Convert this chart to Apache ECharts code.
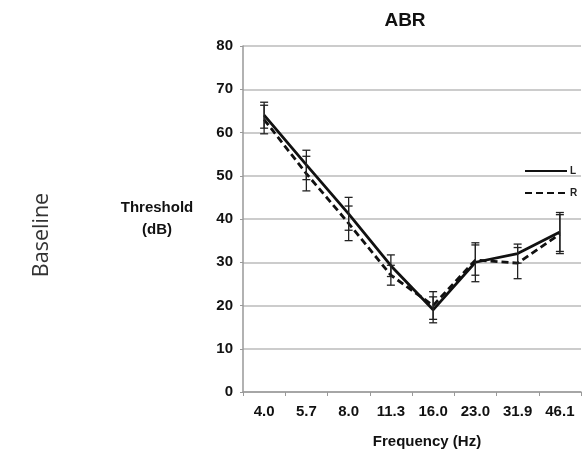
<!DOCTYPE html>
<html>
<head>
<meta charset="utf-8">
<script src="https://cdn.jsdelivr.net/npm/echarts@6/dist/echarts.min.js"></script>
<style>html,body{margin:0;padding:0;background:#fff;}#c{width:587px;height:460px;}</style>
</head>
<body>
<div id="c"></div>
<script>
const categories = ['4.0', '5.7', '8.0', '11.3', '16.0', '23.0', '31.9', '46.1'];
const leftValues = [64, 52.5, 41.2, 29.2, 19, 30, 32, 37];
const leftErr = [3, 3.4, 3.8, 2.5, 3, 4.5, 2.2, 4.5];
const rightValues = [63, 50.5, 39, 27, 20, 30.5, 29.8, 36.5];
const rightErr = [3.3, 4, 4, 2.3, 3.2, 3.5, 3.6, 4.5];
const yTicks = [0, 10, 20, 30, 40, 50, 60, 70, 80];

const FONT = 'Liberation Sans, Arial, sans-serif';

function errData(vals, errs) {
  return vals.map((v, i) => [i, v - errs[i], v + errs[i]]);
}
function errRender(params, api) {
  const i = api.value(0);
  const lo = api.coord([i, api.value(1)]);
  const hi = api.coord([i, api.value(2)]);
  const w = 4;
  const style = { stroke: '#222', lineWidth: 1.3 };
  return {
    type: 'group',
    children: [
      { type: 'line', shape: { x1: hi[0], y1: hi[1], x2: lo[0], y2: lo[1] }, style },
      { type: 'line', shape: { x1: hi[0] - w, y1: hi[1], x2: hi[0] + w, y2: hi[1] }, style },
      { type: 'line', shape: { x1: lo[0] - w, y1: lo[1], x2: lo[0] + w, y2: lo[1] }, style }
    ]
  };
}

const chart = echarts.init(document.getElementById('c'), null, { renderer: 'canvas' });
chart.setOption({
  animation: false,
  backgroundColor: '#fff',
  title: {
    text: 'ABR', left: 400, top: 6, textAlign: 'center',
    textStyle: { fontFamily: FONT, fontWeight: 'bold', fontSize: 19, color: '#111' }
  },
  grid: { left: 243, right: 6, top: 46, bottom: 68 },
  legend: {
    orient: 'vertical', left: 519, top: 161, itemWidth: 42, itemHeight: 8, itemGap: 12,
    itemStyle: { opacity: 0 },
    textStyle: { fontFamily: FONT, fontWeight: 'bold', fontSize: 10, color: '#222', padding: [0, 0, 0, -2] },
    data: ['L', 'R']
  },
  graphic: [{
    type: 'text', x: 42, y: 235, rotation: Math.PI / 2,
    style: { text: 'Baseline', fontFamily: 'Open Sans, Liberation Sans, sans-serif', fontSize: 21.5, fill: '#333',
      textAlign: 'center', textVerticalAlign: 'middle' }
  }],
  xAxis: {
    type: 'category', data: categories, boundaryGap: true,
    name: 'Frequency (Hz)', nameLocation: 'middle', nameGap: 42,
    nameTextStyle: { fontFamily: FONT, fontWeight: 'bold', fontSize: 15, color: '#111', padding: [0, 0, 0, 30] },
    axisLine: { lineStyle: { color: '#999', width: 1.5 } },
    axisTick: { show: true, length: 4, lineStyle: { color: '#999' } },
    axisLabel: { fontFamily: FONT, fontWeight: 'bold', fontSize: 15, color: '#111', margin: 12 }
  },
  yAxis: {
    type: 'value', min: 0, max: 80, interval: 10,
    name: 'Threshold\n(dB)', nameLocation: 'middle', nameRotate: 0, nameGap: 86,
    nameTextStyle: { fontFamily: FONT, fontWeight: 'bold', fontSize: 15, color: '#111', lineHeight: 22, align: 'center',
      padding: [14, 0, 0, 0] },
    axisLine: { show: true, lineStyle: { color: '#999', width: 1.5 } },
    axisTick: { show: true, length: 3, lineStyle: { color: '#999' } },
    axisLabel: { fontFamily: FONT, fontWeight: 'bold', fontSize: 15, color: '#111', margin: 10,
      formatter: v => yTicks.includes(v) ? String(v) : '' },
    splitLine: { lineStyle: { color: '#bbb', width: 1.5 } }
  },
  series: [
    { name: 'L', type: 'line', data: leftValues, symbol: 'none', z: 3,
      lineStyle: { color: '#111', width: 2.8 }, itemStyle: { color: '#111' } },
    { name: 'R', type: 'line', data: rightValues, symbol: 'none', z: 3,
      lineStyle: { color: '#111', width: 2.8, type: [7, 4] }, itemStyle: { color: '#111' } },
    { name: 'Lerr', type: 'custom', data: errData(leftValues, leftErr), renderItem: errRender, z: 4,
      encode: { x: 0, y: [1, 2] } },
    { name: 'Rerr', type: 'custom', data: errData(rightValues, rightErr), renderItem: errRender, z: 4,
      encode: { x: 0, y: [1, 2] } }
  ]
});
</script>
</body>
</html>
